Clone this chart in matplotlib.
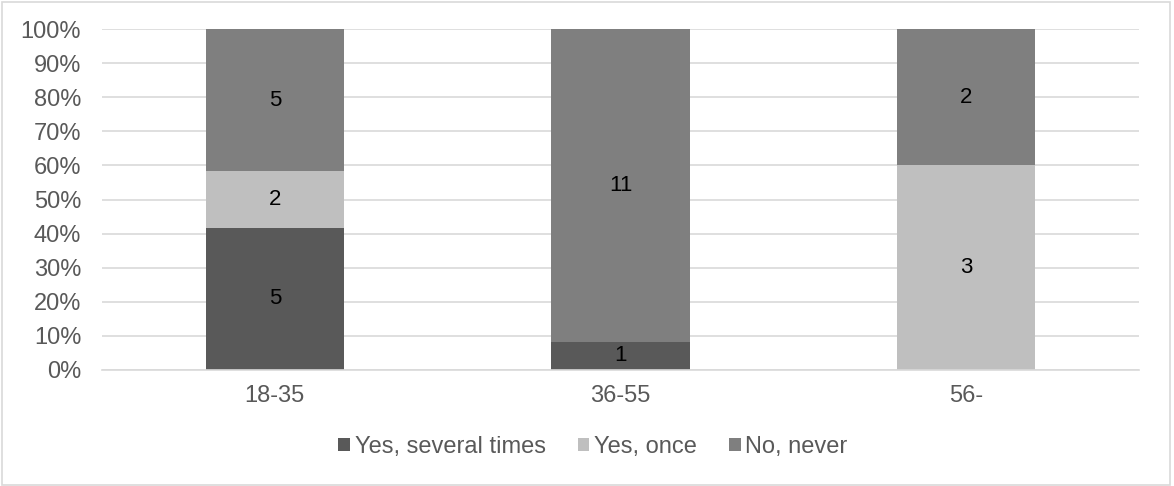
import matplotlib

matplotlib.use("Agg")

import matplotlib.pyplot as plt
import numpy as np
from matplotlib.patches import Rectangle
from matplotlib.ticker import PercentFormatter

plt.rcParams["font.family"] = ["Liberation Sans", "DejaVu Sans"]

age_groups = ["18-35", "36-55", "56-"]
series_names = ["Yes, several times", "Yes, once", "No, never"]
several_times = [5, 1, 0]
once = [2, 0, 3]
never = [5, 11, 2]
series_colors = ["#595959", "#BFBFBF", "#7F7F7F"]

counts = np.array([several_times, once, never], dtype=float)
totals = counts.sum(axis=0)
shares = counts / totals * 100

fig = plt.figure(figsize=(11.74, 4.86), dpi=100)
ax = fig.add_axes([0.0869, 0.2387, 0.8833, 0.7016])

x = np.arange(len(age_groups))
bottom = np.zeros(len(age_groups))
for name, share, count, color in zip(series_names, shares, counts, series_colors):
    bars = ax.bar(x, share, width=0.4, bottom=bottom, color=color, label=name, zorder=2)
    labels = [f"{int(c)}" if c > 0 else "" for c in count]
    ax.bar_label(bars, labels=labels, label_type="center", fontsize=16, color="black")
    bottom += share

ax.set_xlim(-0.5, len(age_groups) - 0.5)
ax.set_ylim(0, 100)
ax.set_yticks(np.arange(0, 101, 10))
ax.yaxis.set_major_formatter(PercentFormatter(decimals=0))
ax.set_xticks(x)
ax.set_xticklabels(age_groups)
ax.tick_params(axis="both", length=0, labelsize=17, labelcolor="#595959")
ax.tick_params(axis="y", pad=15)
ax.tick_params(axis="x", pad=11)
ax.grid(axis="y", color="#D9D9D9", linewidth=1.2, zorder=0)
for side in ["top", "right", "left"]:
    ax.spines[side].set_visible(False)
ax.spines["bottom"].set_color("#D9D9D9")
ax.spines["bottom"].set_linewidth(1.2)
ax.spines["bottom"].set_zorder(3)

fig.legend(
    loc="center",
    bbox_to_anchor=(0.505, 0.08),
    ncol=3,
    frameon=False,
    fontsize=17,
    labelcolor="#595959",
    handlelength=0.5,
    handleheight=0.5,
    handletextpad=0.2,
    columnspacing=1.35,
)

fig.patches.append(
    Rectangle((0.002, 0.003), 0.995, 0.993, transform=fig.transFigure,
              fill=False, edgecolor="#D9D9D9", linewidth=1.2)
)

fig.savefig("out.png", dpi=100)
